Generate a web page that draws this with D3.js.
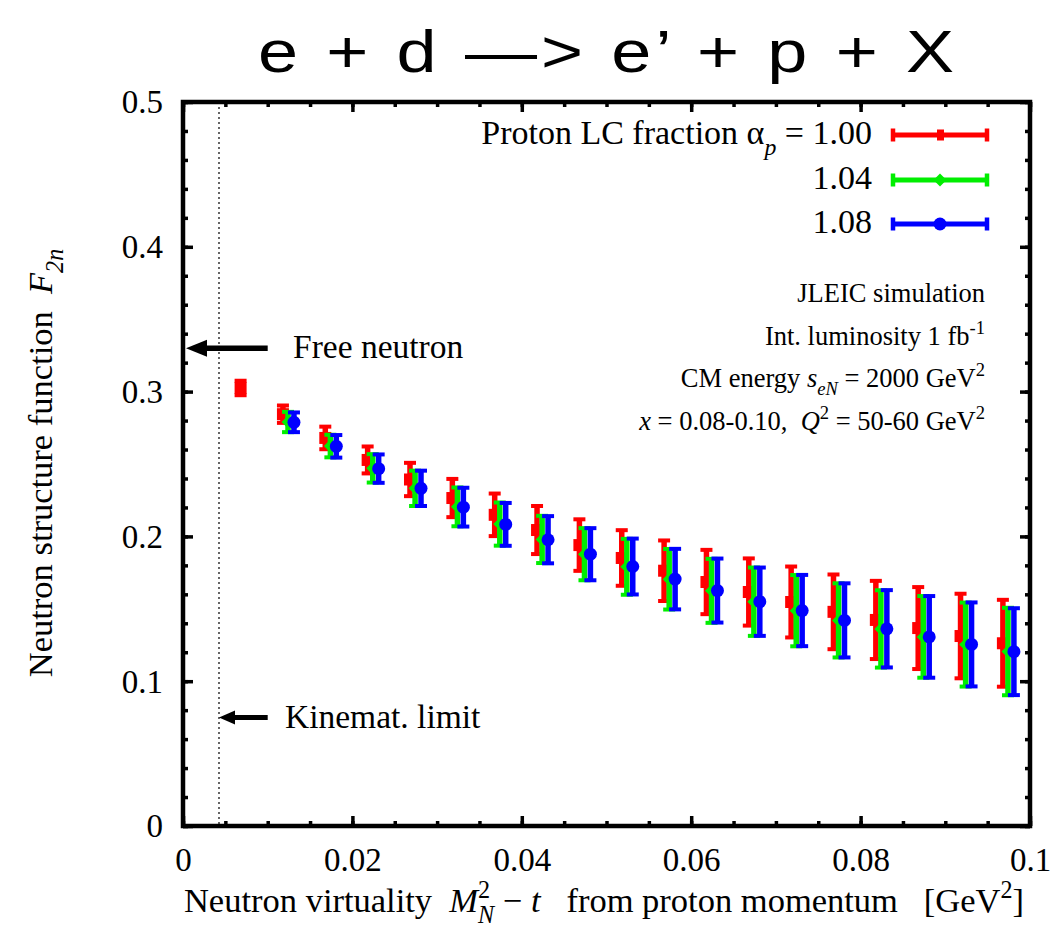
<!DOCTYPE html>
<html><head><meta charset="utf-8">
<script src="https://cdn.jsdelivr.net/npm/d3@7"></script>
<style>
body{margin:0;background:#fff}
svg text{font-family:"Liberation Serif","Times New Roman",serif;white-space:pre;fill:#000}
</style>
</head><body>
<svg id="c" width="1058" height="931"></svg>
<script>
// ---------- data ----------
const xTicks = [0, 0.02, 0.04, 0.06, 0.08, 0.1];
const xTickLabels = ["0", "0.02", "0.04", "0.06", "0.08", "0.1"];
const yTicks = [0, 0.1, 0.2, 0.3, 0.4, 0.5];
const yTickLabels = ["0", "0.1", "0.2", "0.3", "0.4", "0.5"];

const seriesNames = ["1.00", "1.04", "1.08"];
const seriesColors = ["#ff0000", "#00ee00", "#0000ff"];

const xRed = [0.0068, 0.0118, 0.0168, 0.0218, 0.0268, 0.0318, 0.0368, 0.0418, 0.0468, 0.0518,
              0.0568, 0.0618, 0.0668, 0.0718, 0.0768, 0.0818, 0.0868, 0.0918, 0.0968];
const yRed = [0.3025, 0.2844, 0.2680, 0.2528, 0.2393, 0.2265, 0.2149, 0.2044, 0.1940, 0.1851,
              0.1763, 0.1685, 0.1616, 0.1547, 0.1479, 0.1423, 0.1367, 0.1312, 0.1262];
const eRed = [0.0050, 0.0060, 0.0078, 0.0093, 0.0115, 0.0132, 0.0147, 0.0166, 0.0178, 0.0192,
              0.0209, 0.0222, 0.0232, 0.0245, 0.0258, 0.0270, 0.0283, 0.0292, 0.0300];

const xGreen = [0.0124, 0.0174, 0.0224, 0.0274, 0.0324, 0.0374, 0.0424, 0.0474, 0.0524,
                0.0574, 0.0624, 0.0674, 0.0724, 0.0774, 0.0824, 0.0874, 0.0924, 0.0974];
const yGreen = [0.2790, 0.2624, 0.2470, 0.2332, 0.2204, 0.2085, 0.1979, 0.1877, 0.1790,
                0.1704, 0.1624, 0.1549, 0.1487, 0.1420, 0.1361, 0.1306, 0.1253, 0.1205];
const eGreen = [0.0070, 0.0078, 0.0098, 0.0122, 0.0134, 0.0149, 0.0163, 0.0180, 0.0193,
                0.0209, 0.0221, 0.0236, 0.0246, 0.0256, 0.0267, 0.0282, 0.0290, 0.0302];

const xBlue = [0.0131, 0.0181, 0.0231, 0.0281, 0.0331, 0.0381, 0.0431, 0.0481, 0.0531,
               0.0581, 0.0631, 0.0681, 0.0731, 0.0781, 0.0831, 0.0881, 0.0931, 0.0981];
const yBlue = [0.2788, 0.2622, 0.2468, 0.2332, 0.2202, 0.2083, 0.1977, 0.1877, 0.1792,
               0.1705, 0.1626, 0.1549, 0.1488, 0.1420, 0.1362, 0.1306, 0.1254, 0.1204];
const eBlue = [0.0068, 0.0078, 0.0098, 0.0122, 0.0134, 0.0148, 0.0163, 0.0180, 0.0193,
               0.0209, 0.0221, 0.0236, 0.0246, 0.0256, 0.0267, 0.0282, 0.0290, 0.0300];

const freeNeutronF2 = 0.33;
const kinematLimitX = 0.00425;
const kinematArrowY = 0.075;
const arrowStartX = 0.01;

// ---------- drawing ----------
const svg = d3.select("#c");
const x = d3.scaleLinear().domain([0, 0.1]).range([183, 1030]);
const y = d3.scaleLinear().domain([0, 0.5]).range([826, 102]);

function rich(sel, parts, fs) {
  let cur = 0, prevLen = 0;
  parts.forEach(p => {
    const size = p.s ? fs * 0.7 : fs;
    const target = p.s === "sub" ? fs * 0.32 : p.s === "sup" ? -fs * 0.42 : 0;
    const ts = sel.append("tspan").text(p.t).attr("font-size", size);
    if (target - cur !== 0) ts.attr("dy", target - cur);
    if (p.i) ts.attr("font-style", "italic");
    if (p.back) ts.attr("dx", -prevLen);
    cur = target;
    prevLen = ts.node().getComputedTextLength();
  });
}

// Title
svg.append("text").attr("transform", "translate(258,72) scale(1.2,1)")
  .style("font-family", "'Liberation Sans', Arial, Helvetica, sans-serif")
  .attr("font-size", 60)
  .attr("textLength", 580).attr("lengthAdjust", "spacing")
  .text("e + d —> e\u2019 + p + X");

// dotted kinematic limit line
svg.append("line")
  .attr("x1", x(kinematLimitX)).attr("x2", x(kinematLimitX))
  .attr("y1", y(0.5)).attr("y2", y(0))
  .attr("stroke", "#333").attr("stroke-width", 1.5).attr("stroke-dasharray", "2,3");

// axes (ticks inward)
function styleAxis(g) {
  g.select(".domain").remove();
  g.selectAll(".tick line").attr("stroke", "#000").attr("stroke-width", 3.5);
}
const minorX = x.ticks(20), minorY = y.ticks(25);
svg.append("g").attr("transform", "translate(0,826)")
  .call(d3.axisBottom(x).tickValues(minorX).tickSize(-5).tickFormat("")).call(styleAxis);
svg.append("g").attr("transform", "translate(0,102)")
  .call(d3.axisTop(x).tickValues(minorX).tickSize(-5).tickFormat("")).call(styleAxis);
svg.append("g").attr("transform", "translate(183,0)")
  .call(d3.axisLeft(y).tickValues(minorY).tickSize(-5).tickFormat("")).call(styleAxis);
svg.append("g").attr("transform", "translate(1030,0)")
  .call(d3.axisRight(y).tickValues(minorY).tickSize(-5).tickFormat("")).call(styleAxis);

const gxb = svg.append("g").attr("transform", "translate(0,826)")
  .call(d3.axisBottom(x).tickValues(xTicks).tickSize(-10).tickFormat((d, i) => xTickLabels[i]))
  .call(styleAxis);
gxb.selectAll("text").attr("y", 45).attr("dy", null)
  .attr("font-size", 33).style("font-family", "'Liberation Serif', serif").attr("fill", "#000");
svg.append("g").attr("transform", "translate(0,102)")
  .call(d3.axisTop(x).tickValues(xTicks).tickSize(-10).tickFormat("")).call(styleAxis);
const gyl = svg.append("g").attr("transform", "translate(183,0)")
  .call(d3.axisLeft(y).tickValues(yTicks).tickSize(-10).tickFormat((d, i) => yTickLabels[i]))
  .call(styleAxis);
gyl.selectAll("text").attr("x", -20).attr("dy", "0.33em")
  .attr("font-size", 33).style("font-family", "'Liberation Serif', serif").attr("fill", "#000");
svg.append("g").attr("transform", "translate(1030,0)")
  .call(d3.axisRight(y).tickValues(yTicks).tickSize(-10).tickFormat("")).call(styleAxis);

// frame
svg.append("rect").attr("x", 183).attr("y", 102).attr("width", 847).attr("height", 724)
  .attr("fill", "none").attr("stroke", "#000").attr("stroke-width", 4.5);

// arrows
function arrow(x0, x1, yy, w, hl, hh) {
  svg.append("line").attr("x1", x0).attr("x2", x1 + hl - 2).attr("y1", yy).attr("y2", yy)
    .attr("stroke", "#000").attr("stroke-width", w);
  svg.append("path").attr("d", `M${x1},${yy} L${x1 + hl},${yy - hh / 2} L${x1 + hl},${yy + hh / 2} Z`)
    .attr("fill", "#000");
}
arrow(x(arrowStartX), x(0) + 3, y(freeNeutronF2), 5.5, 21, 17);
arrow(x(arrowStartX), x(kinematLimitX), y(kinematArrowY), 5, 16, 14);

svg.append("text").attr("x", 293).attr("y", 358).attr("font-size", 33.5).text("Free neutron");
svg.append("text").attr("x", 285).attr("y", 728).attr("font-size", 33.5).text("Kinemat. limit");

// error bars
const series = [
  {xs: xRed, ys: yRed, es: eRed, c: seriesColors[0], m: "square"},
  {xs: xGreen, ys: yGreen, es: eGreen, c: seriesColors[1], m: "diamond"},
  {xs: xBlue, ys: yBlue, es: eBlue, c: seriesColors[2], m: "circle"}
];
function marker(g, m, cx, cy, c) {
  if (m === "square") g.append("rect").attr("x", cx - 6).attr("y", cy - 6).attr("width", 12).attr("height", 12).attr("fill", c);
  else if (m === "diamond") g.append("path").attr("d", `M${cx - 6.5},${cy} L${cx},${cy - 6.5} L${cx + 6.5},${cy} L${cx},${cy + 6.5} Z`).attr("fill", c);
  else g.append("circle").attr("cx", cx).attr("cy", cy).attr("r", 6.5).attr("fill", c);
}
series.forEach(s => {
  const g = svg.append("g");
  s.xs.forEach((xv, i) => {
    const cx = x(xv), yt = y(s.ys[i] + s.es[i]), yb = y(s.ys[i] - s.es[i]);
    g.append("line").attr("x1", cx).attr("x2", cx).attr("y1", yt).attr("y2", yb)
      .attr("stroke", s.c).attr("stroke-width", 5.5);
    [yt, yb].forEach(yy => g.append("line").attr("x1", cx - 6).attr("x2", cx + 6)
      .attr("y1", yy).attr("y2", yy).attr("stroke", s.c).attr("stroke-width", 4));
    marker(g, s.m, cx, y(s.ys[i]), s.c);
  });
});

// legend
const legRows = [135, 180, 224];
seriesNames.forEach((nm, i) => {
  const ly = legRows[i], c = seriesColors[i];
  svg.append("line").attr("x1", 893).attr("x2", 987).attr("y1", ly).attr("y2", ly)
    .attr("stroke", c).attr("stroke-width", 5);
  [893, 987].forEach(xx => svg.append("line").attr("x1", xx).attr("x2", xx)
    .attr("y1", ly - 6.5).attr("y2", ly + 6.5).attr("stroke", c).attr("stroke-width", 4.5));
  if (i === 0) svg.append("rect").attr("x", 937).attr("y", ly - 5.5).attr("width", 7).attr("height", 11).attr("fill", c);
  else marker(svg, series[i].m, 940, ly, c);
  const t = svg.append("text").attr("x", 872).attr("y", ly + 9).attr("text-anchor", "end");
  if (i === 0) rich(t, [{t: "Proton LC fraction \u03b1"}, {t: "p", s: "sub", i: true}, {t: " = " + nm}], 34);
  else rich(t, [{t: nm}], 34);
});

// annotation block
const annX = 985, annFs = 26.5;
rich(svg.append("text").attr("x", annX).attr("y", 302).attr("text-anchor", "end"),
  [{t: "JLEIC simulation"}], annFs);
rich(svg.append("text").attr("x", annX).attr("y", 345).attr("text-anchor", "end"),
  [{t: "Int. luminosity 1 fb"}, {t: "-1", s: "sup"}], annFs);
rich(svg.append("text").attr("x", annX).attr("y", 387).attr("text-anchor", "end"),
  [{t: "CM energy "}, {t: "s", i: true}, {t: "eN", s: "sub", i: true}, {t: " = 2000 GeV"}, {t: "2", s: "sup"}], annFs);
rich(svg.append("text").attr("x", annX).attr("y", 430).attr("text-anchor", "end"),
  [{t: "x", i: true}, {t: " = 0.08-0.10,  "}, {t: "Q", i: true}, {t: "2", s: "sup"}, {t: " = 50-60 GeV"}, {t: "2", s: "sup"}], annFs);

// axis titles
rich(svg.append("text").attr("x", 604).attr("y", 912).attr("text-anchor", "middle"),
  [{t: "Neutron virtuality  "}, {t: "M", i: true}, {t: "2", s: "sup"}, {t: "N", s: "sub", i: true, back: true},
   {t: " \u2212 "}, {t: "t", i: true}, {t: "   from proton momentum   [GeV"}, {t: "2", s: "sup"}, {t: "]"}], 34.5);
rich(svg.append("text").attr("transform", "translate(52,463) rotate(-90)").attr("text-anchor", "middle"),
  [{t: "Neutron structure function  "}, {t: "F", i: true}, {t: "2n", s: "sub", i: true}], 34.5);
</script>
</body></html>
